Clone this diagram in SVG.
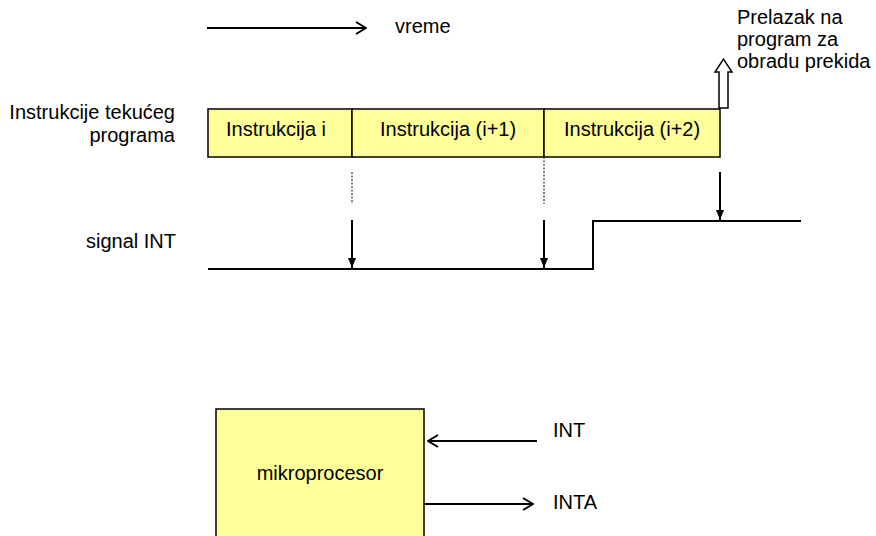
<svg xmlns="http://www.w3.org/2000/svg" width="876" height="536" viewBox="0 0 876 536">
<style>
text{font-family:"Liberation Sans",Arial,sans-serif;font-size:20px;fill:#000}
.box{fill:#ffff99;stroke:#000;stroke-width:1.5}
.ln{fill:none;stroke:#000;stroke-width:2}
.dot{fill:none;stroke:#555;stroke-width:1.5;stroke-dasharray:2 1.5}
</style>
<defs>
<marker id="open" viewBox="0 0 12 14" refX="11" refY="7" markerWidth="12" markerHeight="14" markerUnits="userSpaceOnUse" orient="auto">
<path d="M1,1 L11,7 L1,13" fill="none" stroke="#000" stroke-width="2"/>
</marker>
<marker id="fill" viewBox="0 0 10 10" refX="10" refY="5" markerWidth="10" markerHeight="10" markerUnits="userSpaceOnUse" orient="auto">
<path d="M0,1 L10,5 L0,9 Z" fill="#000"/>
</marker>
</defs>
<rect width="876" height="536" fill="#fff"/>
<g id="time">
<text x="395" y="33">vreme</text>
</g>
<g id="label-program">
<text x="175" y="119" text-anchor="end">Instrukcije tekućeg</text>
<text x="175" y="142" text-anchor="end">programa</text>
</g>
<g id="instr-i">
<rect class="box" x="208" y="109" width="144" height="48"/>
<text x="226" y="136">Instrukcija i</text>
</g>
<g id="instr-i1">
<rect class="box" x="352" y="109" width="192" height="48"/>
<text x="380" y="136">Instrukcija (i+1)</text>
</g>
<g id="instr-i2">
<rect class="box" x="544" y="109" width="176" height="48"/>
<text x="564" y="136">Instrukcija (i+2)</text>
</g>
<g id="prelazak">
<polygon points="719,108 719,72 715,72 723.5,59 732,72 728,72 728,108" fill="#fff" stroke="#000" stroke-width="1.5"/>
<text x="737" y="24">Prelazak na</text>
<text x="737" y="46">program za</text>
<text x="737" y="68">obradu prekida</text>
</g>
<g id="signal-label">
<text x="86" y="248">signal INT</text>
</g>
<g id="mikroprocesor">
<rect class="box" x="216" y="409" width="208" height="140"/>
<text x="320" y="480" text-anchor="middle">mikroprocesor</text>
</g>
<g id="int-label"><text x="553" y="437">INT</text></g>
<g id="inta-label"><text x="553" y="509">INTA</text></g>
<g id="connectors">
<line class="ln" x1="207" y1="28" x2="366" y2="28" marker-end="url(#open)"/>
<polyline class="ln" points="208,269 593,269 593,221 801,221"/>
<line class="dot" x1="352" y1="172" x2="352" y2="204"/>
<line class="dot" x1="544" y1="157" x2="544" y2="204"/>
<line class="ln" x1="352" y1="220" x2="352" y2="268" marker-end="url(#fill)"/>
<line class="ln" x1="544" y1="220" x2="544" y2="268" marker-end="url(#fill)"/>
<line class="ln" x1="720" y1="172" x2="720" y2="220" marker-end="url(#fill)"/>
<line class="ln" x1="537" y1="441" x2="428" y2="441" marker-end="url(#open)"/>
<line class="ln" x1="424" y1="504" x2="533" y2="504" marker-end="url(#open)"/>
</g>
</svg>
